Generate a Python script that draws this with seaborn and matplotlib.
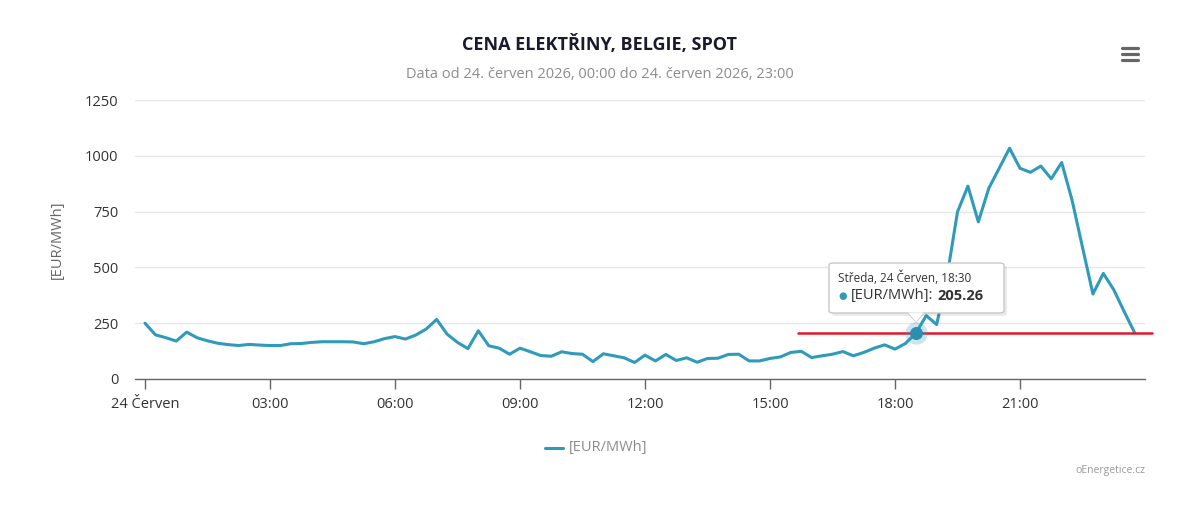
import numpy as np
import pandas as pd
import matplotlib
matplotlib.use("Agg")
import matplotlib.pyplot as plt
import seaborn as sns
from matplotlib.patches import FancyBboxPatch, Polygon
from matplotlib.lines import Line2D

# ============================================
# Data: 15-minute spot prices, 24 June 2026
# ============================================
hours = np.arange(96) * 0.25  # 00:00 .. 23:45
prices = [
    250, 198, 185, 170, 210, 185, 171, 160,
    154, 150, 155, 152, 150, 150, 158, 159,
    164, 167, 167, 167, 166, 158, 167, 181,
    190, 179, 197, 224, 267, 201, 164, 136,
    216, 149, 138, 111, 138, 122, 105, 102,
    122, 114, 111, 78, 113, 104, 95, 74,
    107, 81, 110, 83, 95, 75, 92, 93,
    110, 111, 81, 81, 92, 99, 119, 124,
    96, 104, 111, 123, 104, 119, 138, 153,
    134, 159, 205.26, 284, 244, 460, 749, 864,
    704, 854, 944, 1034, 944, 926, 954, 897,
    970, 801, 590, 381, 473, 400, 302, 208,
]
tick_hours = [0, 3, 6, 9, 12, 15, 18, 21]
tick_labels = ["24 Červen", "03:00", "06:00", "09:00", "12:00", "15:00", "18:00", "21:00"]
y_ticks = [0, 250, 500, 750, 1000, 1250]

df = pd.DataFrame({"hour": hours, "price": prices})

tooltip_hour = 18.5
tooltip_value = 205.26
ref_value = 205.26

LINE = "#2f9aba"

sns.set_theme(style="white")
plt.rcParams["font.family"] = ["Open Sans", "DejaVu Sans"]

W, H = 1200, 517
fig = plt.figure(figsize=(W / 100, H / 100), dpi=100)


def px(x, y):
    return (x / W, 1 - y / H)


ax = fig.add_axes([135 / W, 1 - 379 / H, (1145 - 135) / W, (379 - 100) / H])

sns.lineplot(data=df, x="hour", y="price", ax=ax, color=LINE, linewidth=2.2,
             label="[EUR/MWh]", legend=False)

ax.set_xlim(-0.24, 24.0)
ax.set_ylim(0, 1250)
ax.set_yticks(y_ticks)
ax.set_yticklabels([str(v) for v in y_ticks], fontsize=10.5, color="#333333")
ax.set_xticks(tick_hours)
ax.set_xticklabels(tick_labels, fontsize=10.5, color="#333333")
ax.tick_params(axis="y", left=False, length=0, pad=12)
ax.tick_params(axis="x", bottom=True, length=7, width=1, color="#666666", pad=6,
               direction="out")
ax.grid(axis="y", color="#e6e6e6", linewidth=1)
ax.set_axisbelow(True)
for s in ["top", "right", "left"]:
    ax.spines[s].set_visible(False)
ax.spines["bottom"].set_color("#666666")
ax.spines["bottom"].set_linewidth(1)
ax.set_xlabel("")
ax.set_ylabel("[EUR/MWh]", fontsize=10.5, color="#666666", labelpad=14)

# red reference line
ax.axhline(ref_value, xmin=0.656, xmax=1.007, color="#e3182d", linewidth=1.8,
           clip_on=False, zorder=4)

# hovered point
ax.scatter([tooltip_hour], [tooltip_value], s=260, color=LINE, alpha=0.25, zorder=5,
           linewidths=0)
ax.scatter([tooltip_hour], [tooltip_value], s=70, color="#2c8fb0", zorder=6,
           edgecolors="#2c8fb0", linewidths=1)

# tooltip box
shadow = FancyBboxPatch(px(832, 316), 175 / W, 50 / H,
                        boxstyle="round,pad=0,rounding_size=0.004",
                        transform=fig.transFigure, facecolor="#000000", alpha=0.08,
                        edgecolor="none", zorder=9)
fig.patches.append(shadow)
box = FancyBboxPatch(px(829, 313), 175 / W, 50 / H,
                     boxstyle="round,pad=0,rounding_size=0.004",
                     transform=fig.transFigure, facecolor="white", edgecolor="#c8c8c8",
                     linewidth=1, zorder=10)
fig.patches.append(box)
pointer = Polygon([px(908, 312.5), px(924, 312.5), px(916, 322)], closed=True,
                  transform=fig.transFigure, facecolor="white", edgecolor="none", zorder=11)
fig.patches.append(pointer)
fig.add_artist(Line2D([908 / W, 916 / W, 924 / W], [1 - 313 / H, 1 - 322 / H, 1 - 313 / H],
                      color="#c8c8c8", linewidth=1, zorder=11))
fig.text(*px(838, 278), "Středa, 24 Červen, 18:30", fontsize=8.5, color="#333333",
         va="center", ha="left", zorder=12)
fig.text(*px(838, 296), "●", fontsize=7, color=LINE, va="center", ha="left", zorder=12)
lab = fig.text(*px(851, 296), "[EUR/MWh]:", fontsize=10.5, color="#333333", va="center",
               ha="left", zorder=12)
renderer = fig.canvas.get_renderer()
bb = lab.get_window_extent(renderer=renderer)
fig.text(bb.x1 / W + 4 / W, 1 - 296 / H, "205.26", fontsize=10.5, color="#333333",
         fontweight="bold", va="center", ha="left", zorder=12)

# titles
fig.text(*px(600, 45), "CENA ELEKTŘINY, BELGIE, SPOT", fontsize=13, fontweight="bold",
         color="#1a1a2e", ha="center", va="center")
fig.text(*px(600, 74), "Data od 24. červen 2026, 00:00 do 24. červen 2026, 23:00",
         fontsize=10.5, color="#8c8c8c", ha="center", va="center")

# legend
fig.add_artist(Line2D([545 / W, 563 / W], [1 - 448 / H, 1 - 448 / H], color=LINE,
                      linewidth=2.2))
fig.text(*px(569, 448), "[EUR/MWh]", fontsize=10.5, color="#8c8c8c", ha="left", va="center")

# credits
fig.text(*px(1145, 471), "oEnergetice.cz", fontsize=7.5, color="#999999", ha="right",
         va="center")

# menu icon
for yy in (48, 54, 60):
    fig.add_artist(Line2D([1122 / W, 1138 / W], [1 - yy / H, 1 - yy / H], color="#666666",
                          linewidth=2.3, solid_capstyle="round"))

fig.savefig("out.png", dpi=100, facecolor="white")
